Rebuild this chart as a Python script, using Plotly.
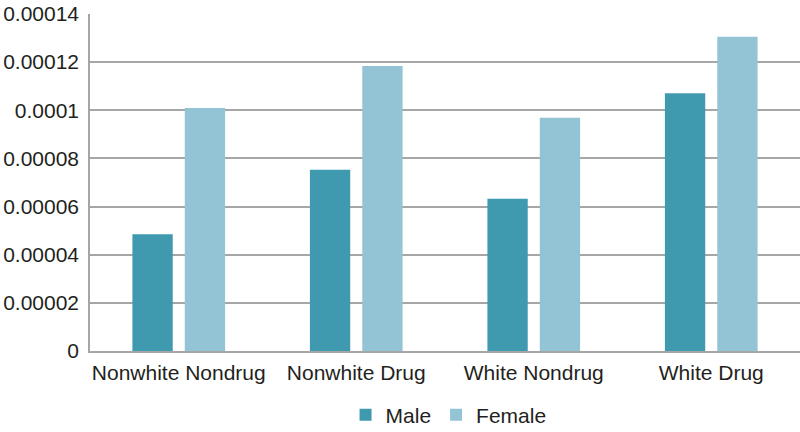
import plotly.graph_objects as go

categories = ["Nonwhite Nondrug", "Nonwhite Drug", "White Nondrug", "White Drug"]
male = [0.0000485, 0.0000753, 0.0000633, 0.0001071]
female = [0.0001010, 0.0001184, 0.0000969, 0.0001306]
y_ticks = [0, 0.00002, 0.00004, 0.00006, 0.00008, 0.0001, 0.00012, 0.00014]
y_tick_text = ["0", "0.00002", "0.00004", "0.00006", "0.00008", "0.0001", "0.00012", "0.00014"]

MALE_COLOR = "#3F9AB0"
FEMALE_COLOR = "#92C4D5"
TEXT_COLOR = "#231F20"
FONT = "Liberation Sans, Arial, sans-serif"
FS = 21

fig = go.Figure()
fig.add_trace(go.Bar(x=categories, y=male, name="Male", marker=dict(color=MALE_COLOR, line=dict(width=0))))
fig.add_trace(go.Bar(x=categories, y=female, name="Female", marker=dict(color=FEMALE_COLOR, line=dict(width=0))))

fig.update_layout(
    width=800, height=432,
    margin=dict(l=90, r=0, t=14, b=81, autoexpand=False),
    paper_bgcolor="white", plot_bgcolor="white",
    barmode="group", bargap=0.41, bargroupgap=0.23,
    font=dict(family=FONT, size=FS, color=TEXT_COLOR),
    legend=dict(orientation="h", x=0.505, xanchor="center", y=-0.19, yanchor="middle",
                font=dict(size=FS, color=TEXT_COLOR), itemwidth=30,
                traceorder="normal"),
    showlegend=True,
)
fig.update_xaxes(showgrid=False, showline=True, linecolor="#A6A6A6", linewidth=2,
                 ticks="", ticklabelstandoff=2, tickfont=dict(size=FS, color=TEXT_COLOR))
fig.update_yaxes(range=[0, 0.00014], tickvals=y_ticks, ticktext=y_tick_text,
                 showgrid=True, gridcolor="#A6A6A6", gridwidth=1.5,
                 showline=True, linecolor="#A6A6A6", linewidth=1.5,
                 zeroline=False, ticks="", ticklabelstandoff=5,
                 tickfont=dict(size=FS, color=TEXT_COLOR))

fig.write_html("out.html")
